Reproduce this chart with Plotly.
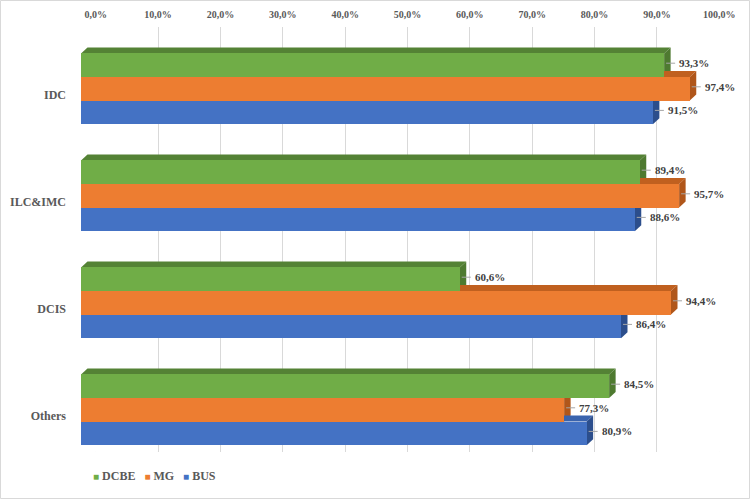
import plotly.graph_objects as go

# ---------------- data ----------------
categories = ["IDC", "ILC&IMC", "DCIS", "Others"]
series_names = ["DCBE", "MG", "BUS"]
dcbe = [93.3, 89.4, 60.6, 84.5]
mg = [97.4, 95.7, 94.4, 77.3]
bus = [91.5, 88.6, 86.4, 80.9]
tick_values = [0, 10, 20, 30, 40, 50, 60, 70, 80, 90, 100]
tick_labels = [f"{t:.1f}%".replace(".", ",") for t in tick_values]

series_values = [dcbe, mg, bus]
front_colors = ["#70AD47", "#ED7D31", "#4472C4"]
top_colors = ["#548235", "#C0601F", "#3A63AD"]
side_colors = ["#4E7A30", "#B0561A", "#2C4E8C"]

FONT = "Liberation Serif, Times New Roman, serif"

# ---------------- geometry ----------------
W, H = 750, 500
ML, MR, MT, MB = 66, 20, 27, 48
PW = W - ML - MR
PH = H - MT - MB
CAT_PX = 107.0
Y_TOP = -0.5776
Y_BOT = Y_TOP + PH / CAT_PX
BAR_PX = 23.6
BAR_W = BAR_PX / CAT_PX
OFFSETS = [-BAR_W, 0.0, BAR_W]
DX, DY = 6.5, 6.0          # depth of the 3D effect in pixels
X2_PX_PER_UNIT = 6.25      # bar axis pixels per percent

fig = go.Figure()

# invisible trace so the gridline axis is drawn
fig.add_trace(go.Scatter(x=[tick_values[0], tick_values[-1]], y=[0, 0], mode="markers",
                         marker=dict(opacity=0), hoverinfo="skip", showlegend=False,
                         xaxis="x", yaxis="y"))

shapes = []
annotations = []

for j, (name, vals) in enumerate(zip(series_names, series_values)):
    ypos = [i + OFFSETS[j] for i in range(len(categories))]
    fig.add_trace(go.Bar(
        x=vals, y=ypos, orientation="h", width=BAR_W,
        marker=dict(color=front_colors[j], line=dict(width=0)),
        name=name, showlegend=False, xaxis="x2", yaxis="y",
        hoverinfo="x+name",
    ))
    ddx = DX / X2_PX_PER_UNIT
    for v, yp in zip(vals, ypos):
        top_edge = yp - BAR_W / 2
        # top face
        shapes.append(dict(
            type="path", layer="below", xref="x2", yref="y",
            ysizemode="pixel", yanchor=top_edge,
            path=f"M 0,0 L {v},0 L {v + ddx},{DY} L {ddx},{DY} Z",
            fillcolor=top_colors[j], line=dict(width=0),
        ))
        # side face
        h2 = BAR_PX / 2
        shapes.append(dict(
            type="path", layer="below", xref="x2", yref="y",
            xsizemode="pixel", xanchor=v, ysizemode="pixel", yanchor=yp,
            path=f"M 0,{h2} L 0,{-h2} L {DX},{-h2 + DY} L {DX},{h2 + DY} Z",
            fillcolor=side_colors[j], line=dict(width=0),
        ))
        # leader line
        shapes.append(dict(
            type="line", layer="above", xref="x2", yref="y",
            xsizemode="pixel", xanchor=v, ysizemode="pixel", yanchor=yp,
            x0=2, x1=11, y0=2, y1=2,
            line=dict(color="#A6A6A6", width=1),
        ))
        annotations.append(dict(
            x=v, y=yp, xref="x2", yref="y", xanchor="left", yanchor="middle",
            xshift=13, yshift=2, showarrow=False,
            text=f"{v:.1f}%".replace(".", ","),
            font=dict(family=FONT, size=11, color="#404040", weight="bold"),
        ))

# floor perspective lines below the gridlines
for t in tick_values:
    shapes.append(dict(
        type="line", layer="below", xref="x", yref="y",
        xsizemode="pixel", xanchor=t, ysizemode="pixel", yanchor=Y_BOT,
        x0=0, x1=-20.7, y0=0, y1=-16,
        line=dict(color="#D9D9D9", width=1),
    ))

# outer border
shapes.append(dict(
    type="rect", xref="paper", yref="paper", layer="above",
    x0=(0.5 - ML) / PW, x1=(W - 0.5 - ML) / PW,
    y0=(MT + PH - (H - 1.5)) / PH, y1=(MT + PH - 0.5) / PH,
    line=dict(color="#D9D9D9", width=1), fillcolor="rgba(0,0,0,0)",
))

# legend as compact text
legend_parts = [
    f'<span style="color:{c};font-size:10px">■</span> {n}'
    for c, n in zip(front_colors, series_names)
]
annotations.append(dict(
    x=(91 - ML) / PW, y=(MT + PH - 476) / PH, xref="paper", yref="paper",
    xanchor="left", yanchor="middle", showarrow=False,
    text="&nbsp;&nbsp;&nbsp;".join(legend_parts),
    font=dict(family=FONT, size=12, color="#595959", weight="bold"),
))

fig.update_layout(
    width=W, height=H,
    margin=dict(l=ML, r=MR, t=MT, b=MB, pad=0, autoexpand=False),
    paper_bgcolor="white", plot_bgcolor="rgba(0,0,0,0)",
    showlegend=False,
    bargap=0, barmode="overlay",
    font=dict(family=FONT, color="#595959"),
    xaxis=dict(
        domain=[(95.7 - ML) / PW, (719.3 - ML) / PW],
        range=[tick_values[0], tick_values[-1]], side="top", anchor="y",
        tickmode="array", tickvals=tick_values, ticktext=tick_labels,
        showgrid=True, gridcolor="#D9D9D9", gridwidth=1,
        zeroline=False, showline=False, automargin=False,
        ticks="outside", ticklen=4, tickcolor="rgba(0,0,0,0)",
        tickfont=dict(family=FONT, size=10, color="#595959", weight="bold"),
        fixedrange=True,
    ),
    xaxis2=dict(
        domain=[(81 - ML) / PW, (706 - ML) / PW],
        range=[tick_values[0], tick_values[-1]], anchor="y",
        visible=False, fixedrange=True, automargin=False,
    ),
    yaxis=dict(
        range=[Y_BOT, Y_TOP], anchor="free", position=0,
        tickmode="array",
        tickvals=[i + 0.06 for i in range(len(categories))], ticktext=categories,
        showgrid=False, zeroline=False, showline=False, ticks="",
        automargin=False,
        tickfont=dict(family=FONT, size=12, color="#595959", weight="bold"),
        fixedrange=True,
    ),
    shapes=shapes,
    annotations=annotations,
)

fig.write_html("out.html", config={"displayModeBar": False},
               post_script="document.body.style.margin='0';")
